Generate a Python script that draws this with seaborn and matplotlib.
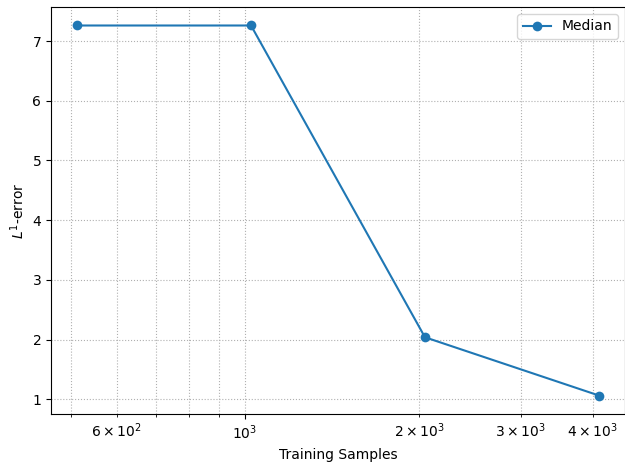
import matplotlib
matplotlib.use("Agg")
import matplotlib.pyplot as plt
import seaborn as sns
import pandas as pd

samples = [512, 1024, 2048, 4096]
median_error = [7.26, 7.26, 2.04, 1.065]
series_label = "Median"

df = pd.DataFrame({"Training Samples": samples, "error": median_error})

W, H = 625, 466
fig = plt.figure(figsize=(W / 100, H / 100), dpi=100)
ax = fig.add_axes([51 / W, (H - 414) / H, (625 - 51) / W, (414 - 7) / H])

sns.lineplot(data=df, x="Training Samples", y="error", marker="o", markersize=7,
             markeredgewidth=0, color="#1f77b4", linewidth=1.5, label=series_label, ax=ax)
ax.set_xscale("log")
ax.grid(True, which="both", linestyle=":", color="#b0b0b0", linewidth=0.8)
ax.set_xlabel("Training Samples")
ax.set_ylabel("$L^1$-error")
ax.legend(loc="upper right")

fig.savefig("out.png", dpi=100)
